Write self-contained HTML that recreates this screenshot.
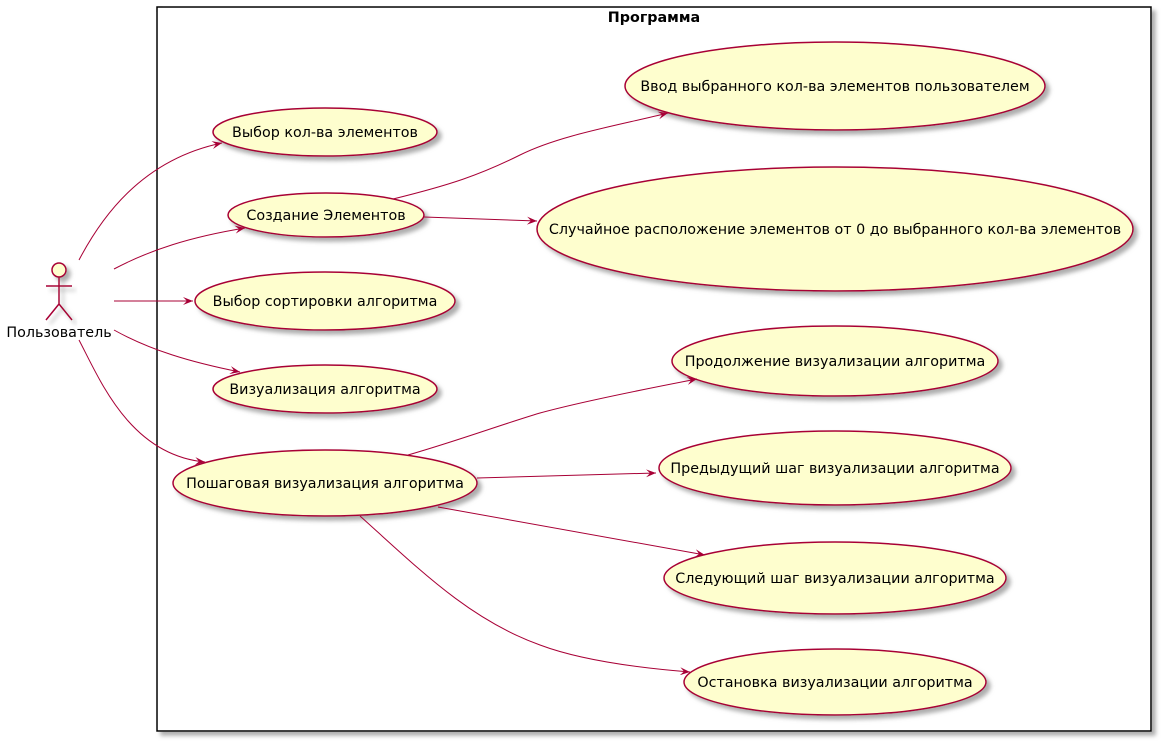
<!DOCTYPE html>
<html><head><meta charset="utf-8"><style>
html,body{margin:0;padding:0;background:#fff;}
svg{display:block;}
text{font-family:"DejaVu Sans","Liberation Sans",sans-serif;font-size:14.3px;fill:#000;}
</style></head><body>
<svg width="1161" height="742" viewBox="0 0 1161 742" xmlns="http://www.w3.org/2000/svg">
<defs>
<filter id="sh" x="-10%" y="-10%" width="130%" height="140%">
<feGaussianBlur in="SourceAlpha" stdDeviation="2"/>
<feOffset dx="4" dy="4" result="b"/>
<feFlood flood-color="#999" flood-opacity="0.8"/>
<feComposite in2="b" operator="in"/>
<feMerge><feMergeNode/><feMergeNode in="SourceGraphic"/></feMerge>
</filter>
<marker id="ar" viewBox="0 0 10 8" refX="10" refY="4" markerWidth="10" markerHeight="8" orient="auto" markerUnits="userSpaceOnUse">
<path d="M0,0 L10,4 L0,8 L4,4 z" fill="#A80036"/>
</marker>
</defs>
<rect x="157" y="7" width="994" height="724" fill="#fff" stroke="#000" stroke-width="1.5" filter="url(#sh)"/>
<text x="654" y="22" text-anchor="middle" font-weight="bold">Программа</text>

<g fill="#FEFECE" stroke="#A80036" stroke-width="1.5" filter="url(#sh)">
<ellipse cx="325" cy="132" rx="112" ry="24"/>
<ellipse cx="326" cy="215" rx="98" ry="22"/>
<ellipse cx="325" cy="301" rx="130" ry="29"/>
<ellipse cx="325" cy="389" rx="112" ry="24"/>
<ellipse cx="325" cy="483" rx="152" ry="33"/>
<ellipse cx="835" cy="86" rx="210" ry="44"/>
<ellipse cx="835" cy="229" rx="298" ry="62"/>
<ellipse cx="835" cy="361" rx="163" ry="35"/>
<ellipse cx="835" cy="468" rx="176" ry="37"/>
<ellipse cx="835" cy="578" rx="171" ry="36"/>
<ellipse cx="835" cy="682" rx="151" ry="33"/>
</g>

<g fill="none" stroke="#A80036" stroke-width="1" marker-end="url(#ar)">
<path d="M79,260 C100,220 140,160 222,143"/>
<path d="M114,269 C150,250 190,237 245,228"/>
<path d="M114,301 L193,301"/>
<path d="M114,330 C150,350 190,362 240,372"/>
<path d="M79,340 C100,380 130,455 205,462"/>
<path d="M393,199 C450,185 480,175 520,155 C560,135 620,125 668,113"/>
<path d="M424,217 L537,221"/>
<path d="M408,455 C460,440 500,425 540,413 C580,402 640,390 697,379"/>
<path d="M477,478 L656,473"/>
<path d="M438,507 L705,555"/>
<path d="M360,516 C420,570 470,620 540,645 C580,660 640,668 690,672"/>
</g>

<g fill="#FEFECE" stroke="#A80036" stroke-width="1.5" filter="url(#sh)">
<circle cx="59" cy="270" r="7"/>
<path d="M59,277 L59,304 M46,286 L72,286 M46,320 L59,304 L72,320" fill="none"/>
</g>
<text x="59" y="337" text-anchor="middle">Пользователь</text>

<g text-anchor="middle">
<text x="325" y="137">Выбор кол-ва элементов</text>
<text x="326" y="220">Создание Элементов</text>
<text x="325" y="306">Выбор сортировки алгоритма</text>
<text x="325" y="394">Визуализация алгоритма</text>
<text x="325" y="488">Пошаговая визуализация алгоритма</text>
<text x="835" y="91">Ввод выбранного кол-ва элементов пользователем</text>
<text x="835" y="234">Случайное расположение элементов от 0 до выбранного кол-ва элементов</text>
<text x="835" y="366">Продолжение визуализации алгоритма</text>
<text x="835" y="473">Предыдущий шаг визуализации алгоритма</text>
<text x="835" y="583">Следующий шаг визуализации алгоритма</text>
<text x="835" y="687">Остановка визуализации алгоритма</text>
</g>
</svg>
</body></html>
